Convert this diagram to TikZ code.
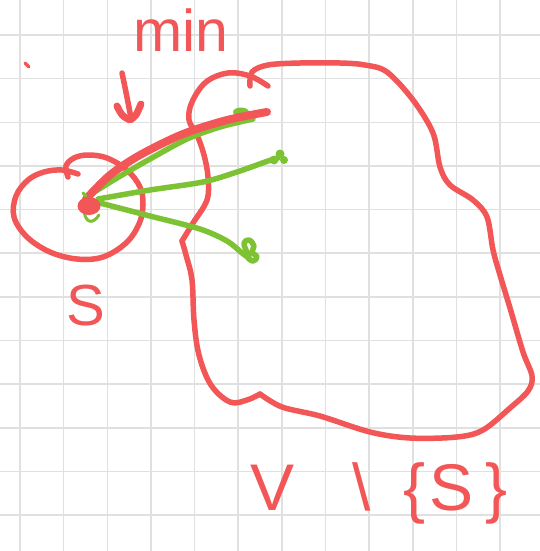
\documentclass[tikz,border=0pt]{standalone}
\usepackage{fontspec}
\setmainfont{Liberation Sans}
\definecolor{pen}{HTML}{F25656}
\definecolor{leaf}{HTML}{7CC233}
\definecolor{gridc}{HTML}{E0E0E0}
\begin{document}
\begin{tikzpicture}[x=1pt, y=-1pt, line cap=round, line join=round,
  redpen/.style={draw=pen, line width=5.5pt},
  greenpen/.style={draw=leaf, line width=5.5pt},
  handlabel/.style={text=pen, inner sep=0pt}]
% paper and its squared grid
\fill[white] (0,0) rectangle (540,551);
\useasboundingbox (0,0) rectangle (540,551);
\foreach \i in {0,...,11} {
  \draw[gridc, line width=1.6pt] ({20+43.65*\i},0) -- ++(0,551);
  \draw[gridc, line width=1.6pt] (0,{35+43.65*\i}) -- ++(540,0);
}

% the set V \ {S}: a blob drawn in two strokes
\draw[redpen] plot[smooth, tension=0.6] coordinates {
  (268,86) (250,76) (228,73) (206,82) (192,102) (189,120) (197,135)
  (204,155) (208,177) (207,200) (193,223) (182,241)};
\draw[redpen] plot[smooth, tension=0.6] coordinates {
  (182,241) (186,255) (192,280) (194,320) (199,355) (211,385)
  (230,402) (247,400) (260,394)};
\draw[redpen] plot[smooth, tension=0.55] coordinates {
  (250,86) (252,72) (268,65) (300,63) (340,63) (365,65) (387,72)
  (413,100) (433,133) (440,167) (450,185) (473,200) (487,217)
  (493,250) (500,275) (510,308) (523,352) (532,376) (528,391)
  (510,408) (483,430) (457,437) (410,438) (370,432) (320,416)
  (282,407) (260,394)};

% the set S: a loop drawn around the source vertex
\draw[redpen] plot[smooth, tension=0.6] coordinates {
  (68,177) (66,166) (74,158) (88,155) (107,158) (127,170) (140,187)
  (143,205) (139,224) (126,243) (103,257) (77,259) (50,252) (27,237)
  (14,217) (16,196) (28,180) (44,172) (62,170) (78,174)};

% edges leaving S
\draw[greenpen] plot[smooth] coordinates {
  (88,196) (117,178) (150,159) (187,139) (220,127) (253,119)};
\fill[leaf] (241,112) ellipse (8 and 4.5);
\draw[greenpen] plot[smooth] coordinates {
  (98,199) (150,190) (203,182) (237,172) (268,161) (278,158)};
\fill[leaf] (274,160) circle (4.5);
\fill[leaf] (280,154) circle (4.5);
\fill[leaf] (284,160) circle (4);
\draw[greenpen] plot[smooth] coordinates {
  (100,203) (150,216) (200,229) (227,241) (242,253) (249,258)};
\draw[greenpen] plot[smooth, tension=0.7] coordinates {
  (249,258) (246,250) (244,243) (249,240) (254,246) (252,252)
  (257,257) (253,261) (248,258)};

% the cheapest edge, drawn over in red
\draw[draw=pen, line width=8pt] plot[smooth] coordinates {
  (86,199) (110,175) (140,155) (183,134) (227,120) (267,112)};

% source vertex
\draw[leaf, line width=3pt] (84,208) .. controls (84,222) and (92,226) .. (99,215);
\draw[leaf, line width=3pt] (83,193) -- (86,196);
\fill[pen] (89,206) ellipse (11.5 and 9);

% pointer to the cheapest edge
\draw[redpen] (122,73) .. controls (126,92) .. (131,118);
\draw[draw=pen, line width=7pt] (117,106) .. controls (122,116) .. (130,120)
  .. controls (136,116) .. (141,104);

% stray pen mark
\draw[draw=pen, line width=3.5pt] (25,63) -- (29,67);

% labels
\node[handlabel, font=\fontsize{59}{59}\selectfont, anchor=base] (minlabel) at (181,52) {min};
\node[handlabel, font=\fontsize{58}{58}\selectfont] (slabel) at (86,306) {S};
\node[handlabel, font=\fontsize{66}{66}\selectfont, anchor=base west] (restlabel) at (250,510)
  {V\hspace{58pt}\textbackslash\hspace{33pt}\{\hspace{4pt}S\hspace{12pt}\}};
\end{tikzpicture}
\end{document}
